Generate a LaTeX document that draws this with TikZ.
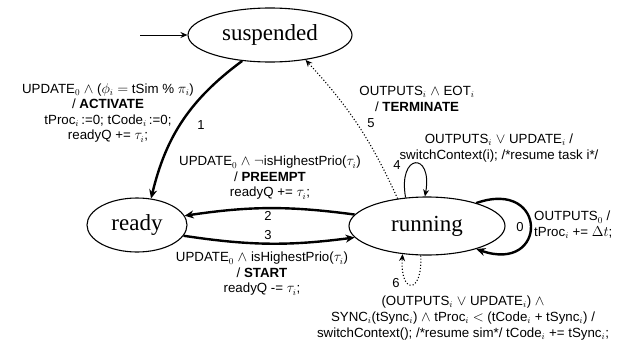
\documentclass[tikz,border=0pt]{standalone}
\usepackage[no-math]{fontspec}
\setmainfont{Liberation Serif}
\newfontfamily\labfont{Liberation Sans}
\usetikzlibrary{shapes.geometric,arrows.meta}
\begin{document}
\begin{tikzpicture}[x=1pt,y=-1pt,
  state/.style={draw,ellipse,line width=1.1pt,inner sep=0pt,font=\fontsize{23}{23}\selectfont},
  lbl/.style={font=\labfont\fontsize{13.3}{15.5}\selectfont,align=center,inner sep=0pt},
  num/.style={font=\labfont\fontsize{13}{13}\selectfont,inner sep=0pt},
  thickedge/.style={line width=2.4pt,-{Stealth[length=9pt,width=8pt]}},
  thinedge/.style={line width=1pt,-{Stealth[length=7pt,width=6pt]}},
  dotedge/.style={line width=1.1pt,dotted,-{Stealth[length=7pt,width=6pt]}}]
\useasboundingbox (0,0) rectangle (628,343);

\node[state,minimum width=164pt,minimum height=54pt] (susp) at (270,35) {suspended};
\node[state,minimum width=100pt,minimum height=54pt] (ready) at (137,225) {ready};
\node[state,minimum width=156pt,minimum height=58pt] (run) at (427,226) {running};

\coordinate (init) at (140,35);
\draw[thinedge] (init) -- (susp);

\draw[thickedge] (susp.223) to[bend right=20] (ready.62);
\draw[thickedge] (run.171) to[bend right=8] (ready.11);
\draw[thickedge] (ready.-13) to[bend right=8] (run.189);
\draw[dotedge] (run.137) to[bend right=9] (susp.-35);
\draw[thinedge] (run.127) .. controls +(-8,-45) and +(8,-45) .. (run.94);
\draw[dotedge] (run.258) .. controls +(2,40) and +(-3,40) .. (run.229);
\draw[thickedge] (run.25) .. controls +(72,-25) and +(72,25) .. (run.-25);

\node[lbl] (l1) at (108,113) {UPDATE$_0$ $\wedge$ ($\phi_i$ $=$ tSim \% $\pi_i$)\\ / \textbf{ACTIVATE}\\ tProc$_i$\,:=0; tCode$_i$\,:=0;\\ readyQ += $\tau_i$;};
\node[lbl] (l2) at (270,178) {UPDATE$_0$ $\wedge$ $\neg$isHighestPrio($\tau_i$)\\ / \textbf{PREEMPT}\\ readyQ += $\tau_i$;};
\node[lbl] (l3) at (262,274) {UPDATE$_0$ $\wedge$ isHighestPrio($\tau_i$)\\ / \textbf{START}\\ readyQ -= $\tau_i$;};
\node[lbl] (l5) at (417,99) {OUTPUTS$_i$ $\wedge$ EOT$_i$\\ / \textbf{TERMINATE}};
\node[lbl] (l4) at (499,148) {OUTPUTS$_i$ $\vee$ UPDATE$_i$ /\\ switchContext(i); /*resume task i*/};
\node[lbl,align=left,anchor=west] (l0) at (534,225) {OUTPUTS$_0$ /\\ tProc$_i$ += $\Delta t$;};
\node[lbl,font=\labfont\fontsize{13.3}{16.3}\selectfont] (l6) at (463,318) {(OUTPUTS$_i$ $\vee$ UPDATE$_i$) $\wedge$\\ SYNC$_i$(tSync$_i$) $\wedge$ tProc$_i$ $<$ (tCode$_i$ + tSync$_i$) /\\ switchContext(); /*resume sim*/ tCode$_i$ += tSync$_i$;};

\node[num] (n1) at (201,125) {1};
\node[num] (n2) at (268,216) {2};
\node[num] (n3) at (268,235) {3};
\node[num] (n4) at (397,165) {4};
\node[num] (n5) at (371,123) {5};
\node[num] (n6) at (396,283) {6};
\node[num] (n0) at (520,227) {0};
\end{tikzpicture}
\end{document}
